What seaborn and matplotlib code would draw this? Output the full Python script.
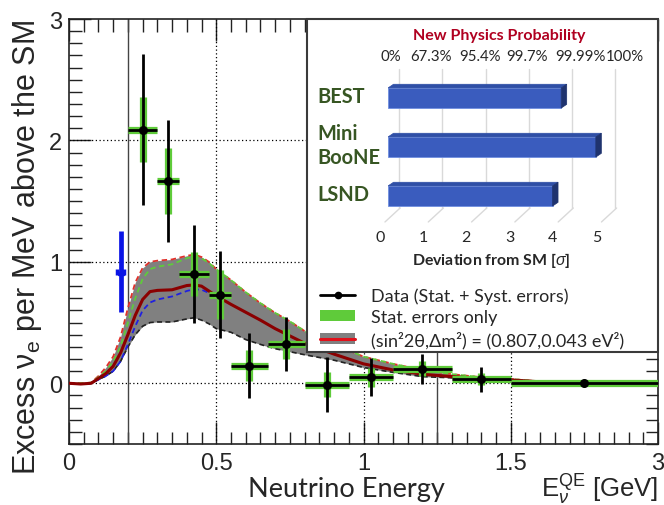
import numpy as np
import matplotlib
matplotlib.use("Agg")
import matplotlib.pyplot as plt
from matplotlib.patches import Rectangle, Polygon, Patch
from matplotlib.lines import Line2D
import seaborn as sns

# ---------------- electron-like excess per energy bin ----------------
bin_lo = [0.200, 0.300, 0.375, 0.475, 0.550, 0.675, 0.800, 0.950, 1.100, 1.300, 1.500]
bin_hi = [0.300, 0.375, 0.475, 0.550, 0.675, 0.800, 0.950, 1.100, 1.300, 1.500, 3.000]
excess = [2.09, 1.665, 0.90, 0.73, 0.146, 0.324, -0.01, 0.05, 0.12, 0.033, 0.0]
err_total = [0.62, 0.50, 0.40, 0.36, 0.265, 0.22, 0.23, 0.158, 0.125, 0.103, 0.015]
err_stat = [0.27, 0.27, 0.18, 0.20, 0.13, 0.12, 0.10, 0.08, 0.062, 0.05, 0.012]

# low-energy point below 200 MeV
low_E = [0.175]
low_excess = [0.92]
low_err = [0.335]

# ---------------- oscillation prediction curves ----------------
curve_E = [0.0, 0.04, 0.075, 0.1, 0.125, 0.15, 0.175, 0.2, 0.225, 0.25, 0.275,
           0.3, 0.35, 0.4, 0.425, 0.45, 0.475, 0.5, 0.55, 0.6, 0.65, 0.7, 0.75,
           0.8, 0.9, 1.0, 1.1, 1.2, 1.3, 1.4, 1.5, 1.8, 2.1, 2.5, 3.0]
best_fit = [0.0, -0.006, 0.0, 0.04, 0.08, 0.14, 0.25, 0.40, 0.56, 0.69, 0.755,
            0.765, 0.77, 0.805, 0.81, 0.80, 0.76, 0.72, 0.65, 0.585, 0.52, 0.45, 0.39,
            0.33, 0.24, 0.16, 0.11, 0.075, 0.055, 0.04, 0.028, 0.012, 0.004, 0.0, 0.0]
band_hi = [0.0, 0.0, 0.005, 0.06, 0.13, 0.22, 0.38, 0.62, 0.83, 0.95, 1.0,
           1.01, 1.02, 1.05, 1.06, 1.04, 1.0, 0.94, 0.85, 0.75, 0.66, 0.58, 0.51,
           0.43, 0.32, 0.22, 0.16, 0.11, 0.075, 0.05, 0.035, 0.015, 0.005, 0.0, 0.0]
alt_hi = [0.0, 0.0, 0.005, 0.05, 0.10, 0.18, 0.30, 0.50, 0.70, 0.86, 0.94,
          0.96, 0.98, 1.03, 1.045, 1.03, 0.99, 0.94, 0.85, 0.75, 0.66, 0.58, 0.51,
          0.43, 0.32, 0.22, 0.16, 0.11, 0.075, 0.05, 0.035, 0.015, 0.005, 0.0, 0.0]
band_lo = [0.0, -0.006, 0.0, 0.03, 0.06, 0.10, 0.18, 0.30, 0.40, 0.47, 0.50,
           0.505, 0.505, 0.53, 0.54, 0.52, 0.49, 0.45, 0.42, 0.36, 0.32, 0.285, 0.26,
           0.235, 0.19, 0.13, 0.09, 0.055, 0.045, 0.03, 0.02, 0.008, 0.002, 0.0, 0.0]
alt_fit = [0.0, -0.006, 0.0, 0.03, 0.06, 0.10, 0.18, 0.32, 0.47, 0.60, 0.665,
           0.69, 0.715, 0.76, 0.775, 0.77, 0.745, 0.715, 0.65, 0.585, 0.52, 0.45, 0.39,
           0.33, 0.24, 0.16, 0.11, 0.075, 0.055, 0.04, 0.028, 0.012, 0.004, 0.0, 0.0]

x_tick_vals = [0, 0.5, 1, 1.5, 3]
x_tick_text = ["0", "0.5", "1", "1.5", "3"]
y_tick_vals = [0, 1, 2, 3]

# ---------------- inset: significance of the anomalies ----------------
studies = ["BEST", "MiniBooNE", "LSND"]
study_text = ["BEST", "Mini\nBooNE", "LSND"]
deviation = [4.0, 4.8, 3.8]
sigma_ticks = [0, 1, 2, 3, 4, 5]
prob_labels = ["0%", "67.3%", "95.4%", "99.7%", "99.99%", "100%"]

# ------------------------------------------------------------------------
sns.set_style("ticks")
plt.rcParams["font.family"] = ["Liberation Sans", "DejaVu Sans"]
plt.rcParams["mathtext.fontset"] = "custom"
plt.rcParams["mathtext.rm"] = "Liberation Sans"
plt.rcParams["mathtext.it"] = "Liberation Sans:italic"
plt.rcParams["mathtext.bf"] = "Liberation Sans:bold"
CAL = ["Lato", "DejaVu Sans"]

W, H = 664, 506
fig = plt.figure(figsize=(W / 100, H / 100), dpi=100)
ax = fig.add_axes([69 / W, 1 - 445 / H, 589 / W, 425 / H])


def fwd(e):
    e = np.asarray(e, float)
    return np.where(e <= 1.5, e, 1.5 + (e - 1.5) / 3.0)


def inv(u):
    u = np.asarray(u, float)
    return np.where(u <= 1.5, u, 1.5 + (u - 1.5) * 3.0)


ax.set_xscale("function", functions=(fwd, inv))
ax.set_xlim(0, 3)
ax.set_ylim(-0.5, 3)

# reference lines
dot = (0, (1, 2))
for yv in [0, 1, 2]:
    ax.axhline(yv, color="k", ls=dot, lw=0.9, zorder=1)
for xv in [0.5, 1.0, 1.5]:
    ax.axvline(xv, color="k", ls=dot, lw=0.9, zorder=1)
for xv in [0.2, 1.25]:
    ax.axvline(xv, color="#444444", lw=1.0, zorder=1)

# prediction band and curves
ax.fill_between(curve_E, band_lo, band_hi, color="#808080", lw=0, zorder=2)
sns.lineplot(x=curve_E, y=band_hi, ax=ax, color="#e0302a", lw=1.3,
             linestyle=(0, (3, 2)), errorbar=None, zorder=3)
sns.lineplot(x=curve_E, y=alt_hi, ax=ax, color="#5fcb3a", lw=1.3,
             linestyle=(0, (3, 2)), errorbar=None, zorder=3)
sns.lineplot(x=curve_E, y=band_lo, ax=ax, color="#222222", lw=1.2,
             linestyle=(0, (3, 2)), errorbar=None, zorder=3)
sns.lineplot(x=curve_E, y=alt_fit, ax=ax, color="#2020e0", lw=1.3,
             linestyle=(0, (3, 2)), errorbar=None, zorder=3)
sns.lineplot(x=curve_E, y=best_fit, ax=ax, color="#8b0000", lw=2.2,
             errorbar=None, zorder=3)

# data points
lo = np.array(bin_lo)
hi = np.array(bin_hi)
ctr = (lo + hi) / 2
xerr = [ctr - lo, hi - ctr]
green = "#5fcb3a"
ax.errorbar(ctr, excess, xerr=xerr, yerr=err_stat, fmt="none", ecolor=green,
            elinewidth=5.2, capsize=0, zorder=4)
ax.errorbar(ctr, excess, xerr=xerr, yerr=err_total, fmt="o", color="k",
            ms=5.5, elinewidth=2.0, capsize=0, zorder=5)

# low-energy point
blue = "#0a14e6"
ax.errorbar(low_E, low_excess, yerr=low_err, fmt="none", ecolor=blue,
            elinewidth=3.4, capsize=0, zorder=6)
cont = ax.errorbar(low_E, low_excess, xerr=0.013, fmt="^", color=blue, ms=5,
                   elinewidth=1.6, capsize=2, capthick=2.5, zorder=7)
for lc in cont.lines[2]:
    lc.set_linestyle(":")

# axis ticks
ax.set_xticks(x_tick_vals, labels=x_tick_text)
minor_x = list(np.arange(0.05, 1.5, 0.05)) + list(1.5 + 0.15 * np.arange(1, 10))
ax.set_xticks(minor_x, minor=True)
ax.set_yticks(y_tick_vals, labels=[str(v) for v in y_tick_vals])
ax.set_yticks(np.arange(-0.5, 3.0, 0.1), minor=True)
ax.tick_params(which="both", direction="in", top=True, right=True, width=1.0,
               color="#222222")
ax.tick_params(which="major", length=16, labelsize=17)
ax.tick_params(which="minor", length=9)
ax.tick_params(axis="x", pad=5.5)
ax.tick_params(axis="y", pad=5)
for s in ax.spines.values():
    s.set_linewidth(1.2)
    s.set_color("#222222")

# axis titles
fig.text(27 / W, 1 - 248 / H, "Excess ν$_{\\rm e}$ per MeV above the SM",
         rotation=90, ha="center", va="center", fontsize=22)
fig.text(346 / W, 1 - 497 / H, "Neutrino Energy", ha="center", va="baseline",
         fontsize=19.5, family=CAL)
fig.text(658 / W, 1 - 498 / H, "E$_{\\nu}^{\\rm QE}$ [GeV]", ha="right",
         va="baseline", fontsize=18.5)

# white panel holding the inset and the legend
ax.add_patch(Rectangle(((307 - 69) / 589, (445 - 353) / 425), (658 - 307) / 589,
                       (353 - 20) / 425, transform=ax.transAxes, fc="white",
                       ec="#3a3a3a", lw=1.5, zorder=10, clip_on=False))

# legend
h_data = Line2D([], [], color="k", lw=2, marker="o", ms=4.5)
h_stat = Patch(fc=green, ec="none")
h_fit = (Patch(fc="#808080", ec="none"), Line2D([], [], color="#e0101a", lw=2.2))
fig.legend([h_data, h_stat, h_fit],
           ["Data (Stat. + Syst. errors)", "Stat. errors only",
            "(sin²2θ,Δm²) = (0.807,0.043 eV²)"],
           loc="upper left", bbox_to_anchor=(320 / W, 1 - 288 / H),
           frameon=False, prop={"family": CAL, "size": 13},
           handlelength=1.95, handleheight=0.55, handletextpad=0.9,
           labelspacing=0.3, borderpad=0, borderaxespad=0)

# ---------------- inset bar chart ----------------
px_sigma = 43.3
iax = fig.add_axes([388 / W, 1 - 221.5 / H, 6 * px_sigma / W, 147 / H])
iax.set_facecolor("none")
front = "#3a5cbe"
sns.barplot(x=deviation, y=studies, orient="h", color=front, saturation=1,
            width=0.41, ax=iax, edgecolor="#6f8ee0", linewidth=0.6, zorder=3)
iax.set_xlim(0, 6)
iax.set_ylim(2.5, -0.5)
iax.axis("off")

ddx, ddy = 5.5 / px_sigma, 3.7 / 49
for p in list(iax.patches):
    x0, w, y0, h = p.get_x(), p.get_width(), p.get_y(), p.get_height()
    top = Polygon([(x0, y0), (x0 + w, y0), (x0 + w + ddx, y0 - ddy), (x0 + ddx, y0 - ddy)],
                  closed=True, fc="#2f4fa6", ec="#2f4fa6", lw=0.5, zorder=3)
    side = Polygon([(x0 + w, y0), (x0 + w + ddx, y0 - ddy), (x0 + w + ddx, y0 + h - ddy),
                    (x0 + w, y0 + h)], closed=True, fc="#1f336e", ec="#1f336e",
                   lw=0.5, zorder=3)
    iax.add_patch(top)
    iax.add_patch(side)

grid_c = "#d9d9d9"
for v in sigma_ticks:
    iax.plot([v + 0.254, v + 0.254], [-0.59, 2.25], color=grid_c, lw=1.0,
             clip_on=False, zorder=0)
    iax.plot([v - 0.07, v + 0.28], [2.53, 2.245], color=grid_c, lw=1.0,
             clip_on=False, zorder=0)
    iax.text(v - 0.19, 2.84, str(v), ha="center", va="center", fontsize=11.5,
             family=CAL)

prob_pos = [0.06, 0.99, 2.13, 3.21, 4.44, 5.47]
for pos, lab in zip(prob_pos, prob_labels):
    iax.text(pos, -0.857, lab, ha="center", va="center", fontsize=10.8,
             family=CAL)
iax.text(2.56, -1.29, "New Physics Probability", ha="center", va="center",
         fontsize=11.5, weight="bold", color="#b00020", family=CAL)
iax.text(2.38, 3.29, "Deviation from SM [$\\sigma$]", ha="center", va="center",
         fontsize=11.4, weight="bold", family=CAL)
for i, lab in enumerate(study_text):
    iax.text(-1.64, i - 0.05, lab, ha="left", va="center", fontsize=14.4,
             weight="bold", color="#375623", family=CAL, linespacing=1.25)

fig.savefig("out.png", dpi=100)
